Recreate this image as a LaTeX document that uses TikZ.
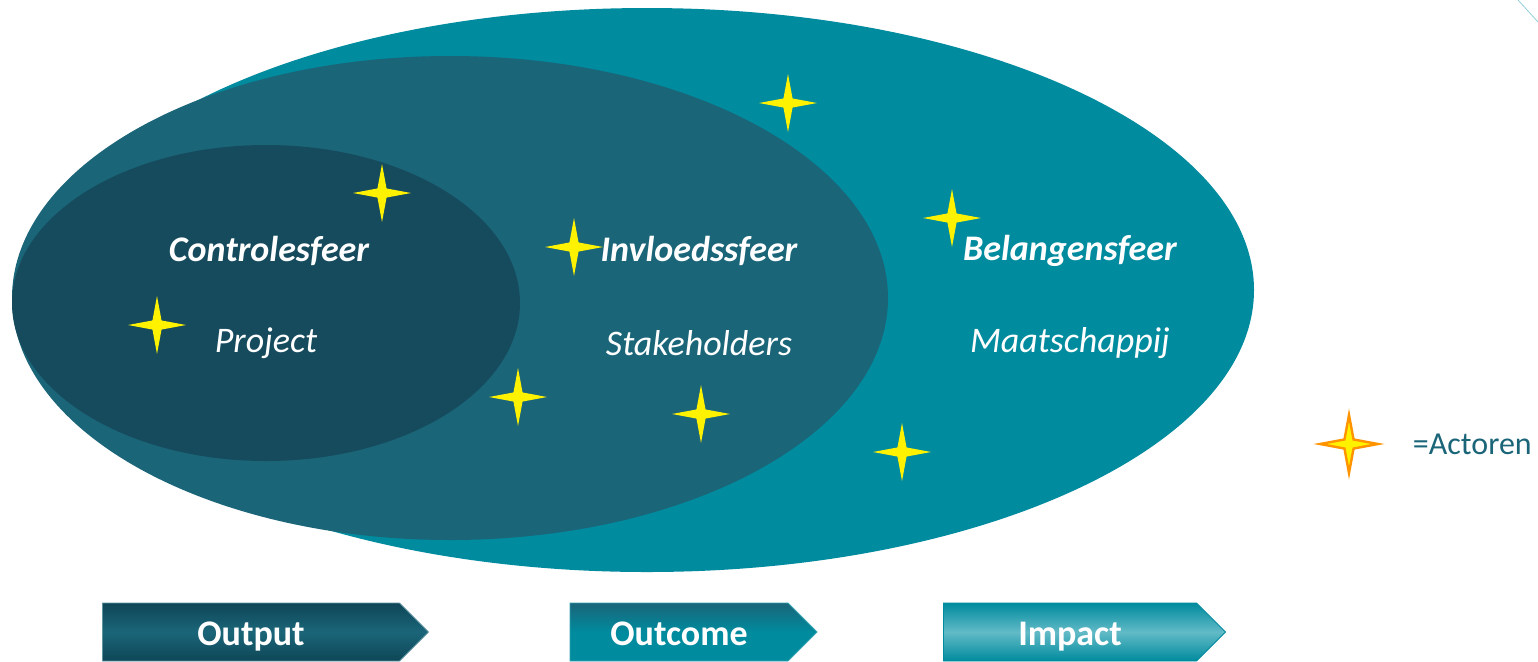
\documentclass[tikz,border=0pt]{standalone}
\usepackage{fontspec}
\setmainfont{Carlito}
\usetikzlibrary{positioning,shapes.geometric,shapes.symbols}
\definecolor{buiten}{HTML}{008B9E}
\definecolor{midden}{HTML}{1B6579}
\definecolor{binnen}{HTML}{154B5D}
\definecolor{donker}{HTML}{0E4656}
\definecolor{licht}{HTML}{62BAC6}
\tikzstyle{sfeer} = [text=white,font=\bfseries\itshape\fontsize{18}{22}\selectfont]
\tikzstyle{omschr} = [text=white,font=\itshape\fontsize{18}{22}\selectfont]
\tikzstyle{actor} = [star,star points=4,star point ratio=4.5,minimum size=29pt,inner sep=0pt,fill=yellow]
\tikzstyle{fase} = [signal,signal to=east,signal pointer angle=90,minimum height=29pt,inner sep=0pt,text height=13pt,text depth=0pt,text=white,font=\bfseries\fontsize{18}{22}\selectfont]

\begin{document}
\begin{tikzpicture}[x=0.5pt,y=-0.5pt,node distance=46pt]
\useasboundingbox (0,0) rectangle (1538,661);
\fill [buiten] (647,290) ellipse [x radius=607,y radius=282];
\fill [midden] (450,298) ellipse [x radius=438,y radius=242];
\fill [binnen] (266,303) ellipse [x radius=254,y radius=158];
\draw [licht!70,thin] (1518,0) -- (1538,22);
% sferen
\node (controle) [sfeer] at (269,251) {Controlesfeer};
\node (invloed) [sfeer] at (699,251) {Invloedssfeer};
\node (belang) [sfeer] at (1070,251) {Belangensfeer};
\node (project) [omschr,below of=controle,xshift=-1.5pt] {Project};
\node (stakeh) [omschr,below of=invloed] {Stakeholders};
\node (maatsch) [omschr,below of=belang] {Maatschappij};
% actoren
\node (ster1) [actor] at (788,103) {};
\node (ster2) [actor] at (382,193) {};
\node (ster3) [actor] at (952,218) {};
\node (ster4) [actor] at (574,247) {};
\node (ster5) [actor] at (157,325) {};
\node (ster6) [actor] at (518,397) {};
\node (ster7) [actor] at (701,414) {};
\node (ster8) [actor] at (902,452) {};
\node (legster) [actor,draw=orange!85!yellow,line width=1.2pt] at (1349,444) {};
\node (legtekst) [right=14pt of legster,inner sep=0pt,text=midden,font=\fontsize{16}{19}\selectfont] {=Actoren};
% fasen
\node (output) [fase,minimum width=163pt,draw=midden!70!white,top color=donker,bottom color=donker,middle color=midden] at (251,632) {Output};
\node (outcome) [fase,minimum width=123.5pt,draw=buiten!80!white,top color=midden,bottom color=buiten,middle color=buiten] at (679,632) {Outcome};
\node (impact) [fase,minimum width=141pt,draw=buiten,top color=buiten,bottom color=buiten,middle color=licht] at (1070,632) {Impact};
\end{tikzpicture}
\end{document}
